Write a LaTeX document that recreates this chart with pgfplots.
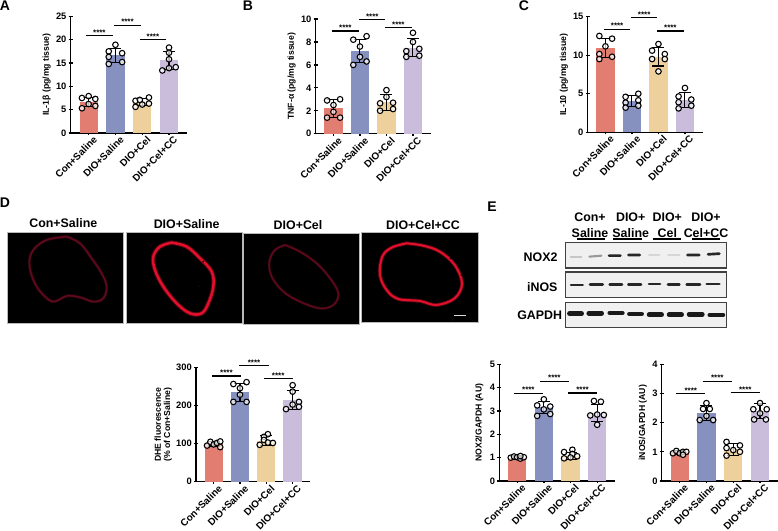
\documentclass[border=0pt]{standalone}
\usepackage{fontspec}
\setmainfont{Liberation Sans}
\usepackage{pgfplots}
\pgfplotsset{compat=1.18}

\definecolor{cr}{HTML}{E27D72}
\definecolor{cb}{HTML}{8791BF}
\definecolor{cy}{HTML}{EDD09C}
\definecolor{cp}{HTML}{C9BDDB}
\definecolor{dimred}{HTML}{5E0A1C}
\definecolor{hotred}{HTML}{E00F2C}

\tikzset{stars/.style={font=\fontsize{6}{7}\selectfont\bfseries,inner sep=0pt,anchor=base,yshift=0.3pt}}
\pgfplotsset{
  panel/.style={
    scale only axis,
    anchor=south west,
    axis lines=left,
    axis line style={-,line width=1pt},
    clip=false,
    xmin=-0.67, xmax=3.67,
    ymin=0,
    xtick={0,1,2,3},
    xticklabels={Con+Saline,DIO+Saline,DIO+Cel,DIO+Cel+CC},
    major tick length=3pt,
    minor tick num=0,
    tick style={black,line width=1pt},
    /pgf/number format/assume math mode=true,
    y tick label style={font=\fontsize{7}{8}\selectfont\bfseries,inner sep=1.5pt},
    x tick label style={font=\fontsize{7.4}{8.5}\selectfont\bfseries,rotate=45,anchor=north east,inner sep=0pt,yshift=-2.2pt,xshift=2pt},
  },
  ylab/.style={ylabel style={at={(axis description cs:#1,0.5)},anchor=center,font=\fontsize{6.5}{7.5}\selectfont\bfseries,align=center}},
  mbar/.style={
    ybar, bar shift=0pt, bar width=13.7pt, draw=none, fill=#1,
    error bars/y dir=both, error bars/y explicit,
    error bars/error bar style={black,line width=0.8pt},
    error bars/error mark options={rotate=90,black,line width=0.8pt,mark size=4.5pt},
  },
  dots/.style={only marks, mark=*, mark size=2.1pt,
    mark options={draw=black,fill=white,fill opacity=0.7,line width=0.8pt}},
  sigl/.style={black,line width=0.85pt,forget plot},
  photo/.style={
    scale only axis, anchor=south west, ticks=none, y dir=reverse,
    axis line style={gray!55,line width=0.7pt},
    axis background/.style={fill=black},
  },
  blot/.style={
    scale only axis, anchor=south west, ticks=none, y dir=reverse,
    axis line style={black!75,line width=1pt},
    axis background/.style={fill=black!6},
    xmin=317, xmax=799, unbounded coords=jump,
  },
  ring/.style={smooth,tension=0.6,no marks,line cap=round,line join=round,draw=#1},
  specks/.style={only marks,mark=*,mark size=0.45pt,mark options={draw=none,fill=#1}},
  band/.style={no marks,draw=#1,line cap=round},
}

\newcommand{\sig}[3]{\addplot[sigl] coordinates {(#1,#3) (#2,#3)} node[pos=0.5,stars] {****};}

\begin{document}
\begin{tikzpicture}[x=0.75pt,y=0.75pt]
\path[use as bounding box] (0,0) rectangle (778,531);
\coordinate (pA) at (70.7,398);
\coordinate (pB) at (315.7,397.3);
\coordinate (pC) at (587.7,398.7);
\coordinate (pD) at (196,49.3);
\coordinate (pN) at (499.3,50);
\coordinate (pI) at (661.7,50);
\coordinate (i1) at (7.7,207.7);
\coordinate (i2) at (126.3,207.7);
\coordinate (i3) at (243.7,207);
\coordinate (i4) at (361.7,208.7);
\coordinate (b1) at (565.7,263);
\coordinate (b2) at (565.7,233.7);
\coordinate (b3) at (565.7,203.7);

% panel A
\begin{axis}[panel,ylab=-0.206,at={(pA)},width=87.2pt,height=87.5pt,ymax=25,ytick={0,5,...,25},
  ylabel={IL-1β (pg/mg tissue)}]
\addplot[mbar=cr] coordinates {(0,6.7) +- (0,1.0)};
\addplot[mbar=cb] coordinates {(1,16.7) +- (0,1.5)};
\addplot[mbar=cy] coordinates {(2,6.6) +- (0,0.7)};
\addplot[mbar=cp] coordinates {(3,15.6) +- (0,1.9)};
\addplot[dots] coordinates {
(-0.25,7.5) (0,7.9) (0.25,7.3) (0,6.2) (0.25,5.8) (-0.25,5.3)
(1,18.9) (0.75,17.5) (1.25,17.1) (0.75,16.3) (0.75,14.8) (1.25,15.2)
(2.25,7.6) (1.75,6.9) (1.91,7.1) (2.25,6.3) (2,6.1) (1.75,5.6)
(3,18.3) (3,17.2) (3,15.8) (2.75,13.4) (3,13.9) (3.25,14.1)};
\sig{-0.1}{0.9}{20.9}
\sig{0.95}{1.95}{23.1}
\sig{1.9}{2.9}{20}
\end{axis}

% panel B
\begin{axis}[panel,ylab=-0.209,at={(pB)},width=86.25pt,height=86pt,ymax=10,ytick={0,2,...,10},
  ylabel={TNF-α (pg/mg tissue)}]
\addplot[mbar=cr] coordinates {(0,2.2) +- (0,0.75)};
\addplot[mbar=cb] coordinates {(1,7.2) +- (0,1.0)};
\addplot[mbar=cy] coordinates {(2,2.75) +- (0,0.7)};
\addplot[mbar=cp] coordinates {(3,7.5) +- (0,0.8)};
\addplot[dots] coordinates {
(-0.24,2.9) (0.25,3.0) (0,2.5) (0,1.9) (-0.24,1.4) (0.25,1.4)
(0.75,8.2) (1.25,8.5) (1,7.6) (1,6.7) (0.75,6.0) (1.25,6.3)
(2,3.8) (2,3.2) (1.76,2.65) (2.25,2.7) (1.76,2.0) (2.25,2.15)
(3,8.8) (3,8.0) (2.75,7.2) (3.24,7.4) (2.75,6.7) (3.24,6.8)};
\sig{-0.05}{0.95}{8.95}
\sig{0.98}{1.95}{9.94}
\sig{1.95}{2.95}{9.24}
\end{axis}

% panel C
\begin{axis}[panel,ylab=-0.206,at={(pC)},width=86.25pt,height=86.7pt,ymax=15,ytick={0,5,10,15},
  ylabel={IL-10 (pg/mg tissue)}]
\addplot[mbar=cr] coordinates {(0,10.9) +- (0,1.25)};
\addplot[mbar=cb] coordinates {(1,4.06) +- (0,0.7)};
\addplot[mbar=cy] coordinates {(2,9.8) +- (0,1.2)};
\addplot[mbar=cp] coordinates {(3,4.2) +- (0,1.0)};
\addplot[dots] coordinates {
(-0.23,12.5) (0.25,12.15) (0,11.15) (-0.23,10.15) (-0.23,9.5) (0.25,9.8)
(0.76,4.6) (1.24,5.0) (1.24,4.15) (0.76,3.85) (0.76,3.2) (1.24,3.45)
(2,11.45) (1.76,10.6) (2.24,10.15) (1.76,9.5) (2.24,9.5) (2,7.9)
(3,5.75) (2.76,4.65) (3.24,4.25) (2.76,3.9) (2.76,3.1) (3.24,3.45)};
\sig{-0.06}{0.94}{13.36}
\sig{0.96}{1.96}{14.87}
\sig{1.95}{2.95}{13.14}
\end{axis}

% panel D bars
\begin{axis}[panel,ylab=-0.286,at={(pD)},width=85.7pt,height=85.5pt,ymax=300,ytick={0,100,200,300},
  ylabel={DHE fluorescence\\[-0.5pt](\% of Con+Saline)}]
\addplot[mbar=cr] coordinates {(0,100) +- (0,6)};
\addplot[mbar=cb] coordinates {(1,235) +- (0,24)};
\addplot[mbar=cy] coordinates {(2,108) +- (0,13)};
\addplot[mbar=cp] coordinates {(3,215) +- (0,26)};
\addplot[dots] coordinates {
(-0.25,95) (-0.125,105) (0,98) (0.125,102) (0.25,106) (0.25,91)
(0.75,257) (1.25,262) (1,246) (1,229) (0.75,210) (1.25,210)
(2.06,125) (1.91,118) (1.91,110) (1.75,97) (2.06,103) (2.25,102)
(3,254) (3,237) (2.75,191) (3,203) (3.24,210) (3.24,197)};
\sig{-0.08}{1.05}{278}
\sig{0.97}{2.1}{305}
\sig{1.9}{3.0}{271}
\end{axis}

% NOX2 bars
\begin{axis}[panel,ylab=-0.173,at={(pN)},width=86.8pt,height=87.5pt,ymax=5,ytick={0,1,...,5},
  ylabel={NOX2/GAPDH (AU)}]
\addplot[mbar=cr] coordinates {(0,1.0) +- (0,0.07)};
\addplot[mbar=cb] coordinates {(1,3.15) +- (0,0.25)};
\addplot[mbar=cy] coordinates {(2,1.08) +- (0,0.15)};
\addplot[mbar=cp] coordinates {(3,2.9) +- (0,0.37)};
\addplot[dots] coordinates {
(-0.24,1.0) (-0.12,1.05) (0,1.02) (0.12,0.96) (0.25,1.02) (0.12,1.07)
(1,3.5) (0.75,3.24) (1,3.07) (1.24,3.19) (0.75,2.79) (1.24,2.87)
(2.07,1.34) (1.76,1.24) (2.07,1.16) (1.76,0.97) (2,1.01) (2.25,1.06)
(2.88,3.43) (3.14,3.4) (2.74,2.81) (3,2.85) (3.25,2.83) (3,2.41)};
\sig{-0.12}{0.96}{3.76}
\sig{0.85}{1.94}{4.27}
\sig{1.9}{3.0}{3.77}
\end{axis}

% iNOS bars
\begin{axis}[panel,ylab=-0.161,at={(pI)},width=87.2pt,height=87.5pt,ymax=4,ytick={0,1,...,4},
  ylabel={iNOS/GAPDH (AU)}]
\addplot[mbar=cr] coordinates {(0,0.98) +- (0,0.07)};
\addplot[mbar=cb] coordinates {(1,2.33) +- (0,0.25)};
\addplot[mbar=cy] coordinates {(2,1.08) +- (0,0.2)};
\addplot[mbar=cp] coordinates {(3,2.4) +- (0,0.27)};
\addplot[dots] coordinates {
(-0.25,0.95) (-0.125,1.03) (0,0.95) (0.125,1.0) (0.25,1.0) (0.125,0.9)
(1,2.67) (0.875,2.47) (1.125,2.47) (1,2.23) (0.75,2.09) (1.25,2.09)
(1.75,1.34) (2.25,1.22) (1.75,1.13) (2,1.06) (2.25,1.0) (1.75,0.87)
(3,2.67) (2.75,2.46) (3.25,2.46) (3,2.32) (2.78,2.11) (3.22,2.11)};
\sig{-0.12}{0.95}{3.0}
\sig{0.86}{1.95}{3.42}
\sig{1.9}{3.0}{3.02}
\end{axis}

% D: fluorescence sections
\begin{axis}[photo,at={(i1)},width=86.7pt,height=68pt,xmin=23,xmax=370,ymin=128,ymax=400]
\addplot[ring=dimred,line width=2.4pt,opacity=0.4] coordinates {(200,140) (240,160) (275,205) (305,250) (320,290) (310,325) (280,335) (240,322) (200,318) (160,335) (125,310) (100,270) (88,220) (100,180) (140,150) (200,140)};
\addplot[ring=dimred,line width=1.2pt] coordinates {(200,140) (240,160) (275,205) (305,250) (320,290) (310,325) (280,335) (240,322) (200,318) (160,335) (125,310) (100,270) (88,220) (100,180) (140,150) (200,140)};
\addplot[specks=dimred] coordinates {(315,185) (322,192) (305,155) (78,275) (76,268)};
\end{axis}
\begin{axis}[photo,at={(i2)},width=86.8pt,height=68pt,xmin=379,xmax=726,ymin=128,ymax=400]
\addplot[ring=hotred,line width=3.4pt,opacity=0.35] coordinates {(515,158) (560,170) (600,205) (635,245) (640,290) (625,340) (605,370) (570,370) (530,340) (490,290) (465,240) (460,200) (480,170) (515,158)};
\addplot[ring=hotred,line width=1.9pt] coordinates {(515,158) (560,170) (600,205) (635,245) (640,290) (625,340) (605,370) (570,370) (530,340) (490,290) (465,240) (460,200) (480,170) (515,158)};
\addplot[specks=hotred] coordinates {(597,288) (440,215) (655,250) (610,215) (640,375) (445,250) (620,205) (450,165) (655,300) (485,150) (510,355) (630,200)};
\end{axis}
\begin{axis}[photo,at={(i3)},width=87pt,height=68pt,xmin=731,xmax=1079,ymin=130,ymax=402]
\addplot[ring=dimred,line width=2.2pt,opacity=0.4] coordinates {(855,165) (900,185) (950,220) (990,265) (1015,310) (1000,345) (960,355) (900,335) (850,305) (815,260) (808,215) (825,180) (855,165)};
\addplot[ring=dimred,line width=1.1pt] coordinates {(855,165) (900,185) (950,220) (990,265) (1015,310) (1000,345) (960,355) (900,335) (850,305) (815,260) (808,215) (825,180) (855,165)};
\addplot[specks=dimred] coordinates {(795,295) (805,300) (820,315) (808,318) (795,255)};
\end{axis}
\begin{axis}[photo,at={(i4)},width=87.2pt,height=67.5pt,xmin=20,xmax=370,ymin=22,ymax=292]
\addplot[ring=hotred,line width=2.9pt,opacity=0.35] coordinates {(155,55) (205,62) (255,80) (300,120) (322,175) (300,220) (245,240) (195,228) (130,222) (95,195) (75,150) (82,95) (110,68) (155,55)};
\addplot[ring=hotred,line width=1.6pt] coordinates {(155,55) (205,62) (255,80) (300,120) (322,175) (300,220) (245,240) (195,228) (130,222) (95,195) (75,150) (82,95) (110,68) (155,55)};
\addplot[specks=hotred] coordinates {(295,285) (320,150) (270,72) (312,125) (70,185) (288,100)};
\addplot[no marks,draw=white!85!black,line width=1.1pt] coordinates {(298,272) (335,272)};
\end{axis}

% E: blots
\begin{axis}[blot,at={(b1)},width=120.5pt,height=19pt,ymin=158,ymax=234]
\addplot[band=black!22,line width=1.4pt] coordinates {(332,200) (364,200)};
\addplot[band=black!40,line width=1.6pt] coordinates {(388,200) (424,197)};
\addplot[band=black!85,line width=2pt] coordinates {(447,197) (481,197) (505,nan) (505,195) (539,195) (682,nan) (682,195) (718,195) (744,nan) (744,193) (778,191)};
\addplot[band=black!16,line width=1.4pt] coordinates {(567,196) (598,196) (624,nan) (624,196) (658,196)};
\end{axis}
\begin{axis}[blot,at={(b2)},width=120.5pt,height=19pt,ymin=246,ymax=322]
\addplot[band=black!85,line width=2pt] coordinates {(333,285) (368,285) (390,nan) (390,284) (428,284) (449,nan) (449,284) (486,284) (505,nan) (505,283) (543,283) (567,nan) (567,282) (600,282) (624,nan) (624,283) (658,283) (680,nan) (680,283) (720,283) (740,nan) (740,282) (778,282)};
\end{axis}
\begin{axis}[blot,at={(b3)},width=120.5pt,height=18.5pt,ymin=338,ymax=412]
\addplot[band=black!90,line width=3.4pt] coordinates {(328,371) (365,371) (386,nan) (386,370) (425,370) (449,nan) (449,369) (487,369) (508,nan) (508,372) (545,372) (567,nan) (567,374) (605,374) (627,nan) (627,374) (665,374) (687,nan) (687,373) (727,373) (749,nan) (749,375) (789,375)};
\end{axis}

% panel letters and headings
\begin{scope}[every node/.style={inner sep=0pt,font=\fontsize{10.5}{12}\selectfont\bfseries}]
\node at (5,525.5) {A};
\node at (248,525.5) {B};
\node at (524,525.5) {C};
\node at (5,328.3) {D};
\node at (492,324) {E};
\end{scope}
\begin{scope}[every node/.style={inner sep=0pt,font=\fontsize{9.3}{11}\selectfont\bfseries}]
\node at (63.3,308) {Con+Saline};
\node at (186.7,307) {DIO+Saline};
\node at (298,306.3) {DIO+Cel};
\node at (423,306.3) {DIO+Cel+CC};
\node at (590,313.7) {Con+};
\node at (590,298.3) {Saline};
\node at (630.7,313.7) {DIO+};
\node at (630.7,298.3) {Saline};
\node at (667.3,313.7) {DIO+};
\node at (667.3,298.3) {Cel};
\node at (706,313.7) {DIO+};
\node at (706,298.3) {Cel+CC};
\node[anchor=east] at (557.7,274) {NOX2};
\node[anchor=east] at (557.7,244.3) {iNOS};
\node[anchor=east] at (562.3,215.3) {GAPDH};
\end{scope}
\draw[line width=0.8pt] (577.3,292) -- (605.3,292) (613.3,292) -- (642,292) (653,292) -- (681.3,292) (692.3,292) -- (720,292);
\end{tikzpicture}
\end{document}
